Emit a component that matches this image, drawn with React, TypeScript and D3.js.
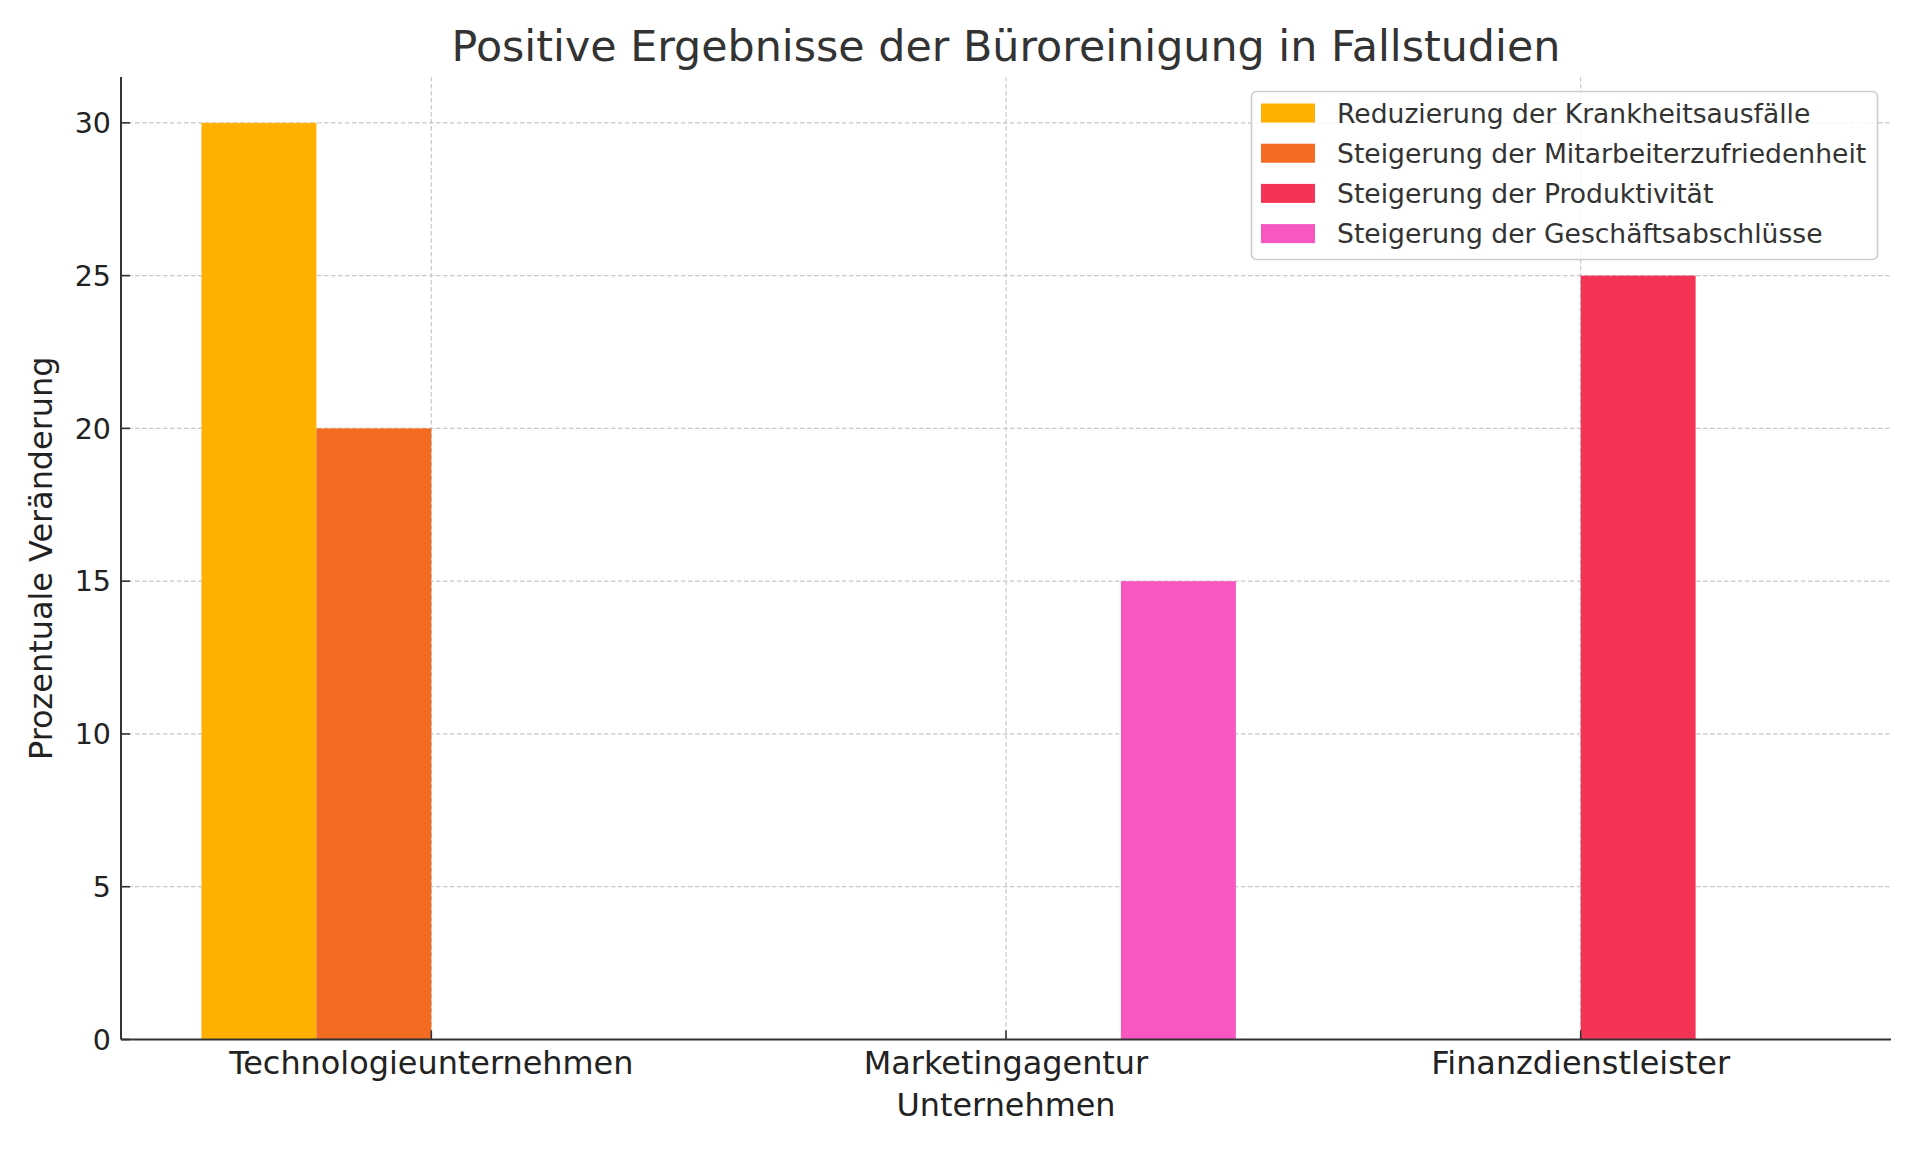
import React from "react";
import * as d3 from "d3";

const categories = ["Technologieunternehmen", "Marketingagentur", "Finanzdienstleister"];
const seriesNames = [
  "Reduzierung der Krankheitsausfälle",
  "Steigerung der Mitarbeiterzufriedenheit",
  "Steigerung der Produktivität",
  "Steigerung der Geschäftsabschlüsse",
];
const reduzierung = [30, 0, 0];
const zufriedenheit = [20, 0, 0];
const produktivitaet = [0, 0, 25];
const abschluesse = [0, 15, 0];
const seriesValues = [reduzierung, zufriedenheit, produktivitaet, abschluesse];
const seriesColors = ["#FFB000", "#F26B21", "#F43456", "#F857C0"];
const yTicks = [0, 5, 10, 15, 20, 25, 30];

const title = "Positive Ergebnisse der Büroreinigung in Fallstudien";
const xLabel = "Unternehmen";
const yLabel = "Prozentuale Veränderung";

const W = 1920;
const H = 1152;
const left = 121;
const right = 1891;
const top = 77;
const bottom = 1039.5;
const barW = 0.2;
const font = "'DejaVu Sans', sans-serif";

export default function App() {
  const n = seriesNames.length;
  const offsets = seriesNames.map((_, i) => (i - (n - 1) / 2) * barW);
  const xMin = offsets[0] - barW / 2;
  const xMax = categories.length - 1 + offsets[n - 1] + barW / 2;
  const pad = (xMax - xMin) * 0.05;
  const x = d3.scaleLinear().domain([xMin - pad, xMax + pad]).range([left, right]);
  const yMax = d3.max(seriesValues.flat()) as number;
  const y = d3.scaleLinear().domain([0, yMax * 1.05]).range([bottom, top]);

  const gridColor = "#c8c8c8";
  const axisColor = "#333";

  return (
    <svg width={W} height={H} style={{ position: "absolute", left: 0, top: 0, background: "#fff" }} fontFamily={font}>
      <rect x={0} y={0} width={W} height={H} fill="#fff" />
      {/* grid */}
      {yTicks.map((t) => (
        <line key={"gy" + t} x1={left} x2={right} y1={y(t)} y2={y(t)} stroke={gridColor} strokeWidth={1.2} strokeDasharray="4.5,2.5" />
      ))}
      {categories.map((c, i) => (
        <line key={"gx" + c} x1={x(i)} x2={x(i)} y1={top} y2={bottom} stroke={gridColor} strokeWidth={1.2} strokeDasharray="4.5,2.5" />
      ))}
      {/* bars */}
      {seriesValues.map((vals, s) =>
        vals.map((v, i) => (
          <rect
            key={`b${s}-${i}`}
            x={x(i + offsets[s] - barW / 2)}
            width={x(barW) - x(0)}
            y={y(v)}
            height={y(0) - y(v)}
            fill={seriesColors[s]}
          />
        ))
      )}
      {/* spines */}
      <line x1={left} x2={left} y1={top} y2={bottom} stroke={axisColor} strokeWidth={2} />
      <line x1={left} x2={right} y1={bottom} y2={bottom} stroke={axisColor} strokeWidth={2} />
      {/* y ticks */}
      {yTicks.map((t) => (
        <g key={"yt" + t}>
          <line x1={left} x2={left + 9} y1={y(t)} y2={y(t)} stroke={axisColor} strokeWidth={1.6} />
          <text x={left - 10} y={y(t)} dy="0.36em" textAnchor="end" fontSize={28.5} fill="#222">
            {t}
          </text>
        </g>
      ))}
      {/* x ticks */}
      {categories.map((c, i) => (
        <g key={"xt" + c}>
          <line x1={x(i)} x2={x(i)} y1={bottom} y2={bottom - 9} stroke={axisColor} strokeWidth={1.6} />
          <text x={x(i)} y={1074} textAnchor="middle" fontSize={31.9} fill="#222">
            {c}
          </text>
        </g>
      ))}
      {/* axis labels */}
      <text x={(left + right) / 2} y={1116} textAnchor="middle" fontSize={31.9} fill="#222">
        {xLabel}
      </text>
      <text transform={`translate(52, ${(top + bottom) / 2}) rotate(-90)`} textAnchor="middle" fontSize={31.9} fill="#222">
        {yLabel}
      </text>
      {/* title */}
      <text x={(left + right) / 2} y={61} textAnchor="middle" fontSize={42.8} fill="#333">
        {title}
      </text>
      {/* legend */}
      <g>
        <rect x={1251.5} y={91.5} width={626} height={168} rx={5} ry={5} fill="#fff" fillOpacity={0.8} stroke="#cccccc" strokeWidth={1.6} />
        {seriesNames.map((name, s) => {
          const cy = 113 + s * 40.2;
          return (
            <g key={"lg" + s}>
              <rect x={1261} y={cy - 9.5} width={54} height={19} fill={seriesColors[s]} />
              <text x={1337} y={cy} dy="0.36em" fontSize={26.6} fill="#333">
                {name}
              </text>
            </g>
          );
        })}
      </g>
    </svg>
  );
}
